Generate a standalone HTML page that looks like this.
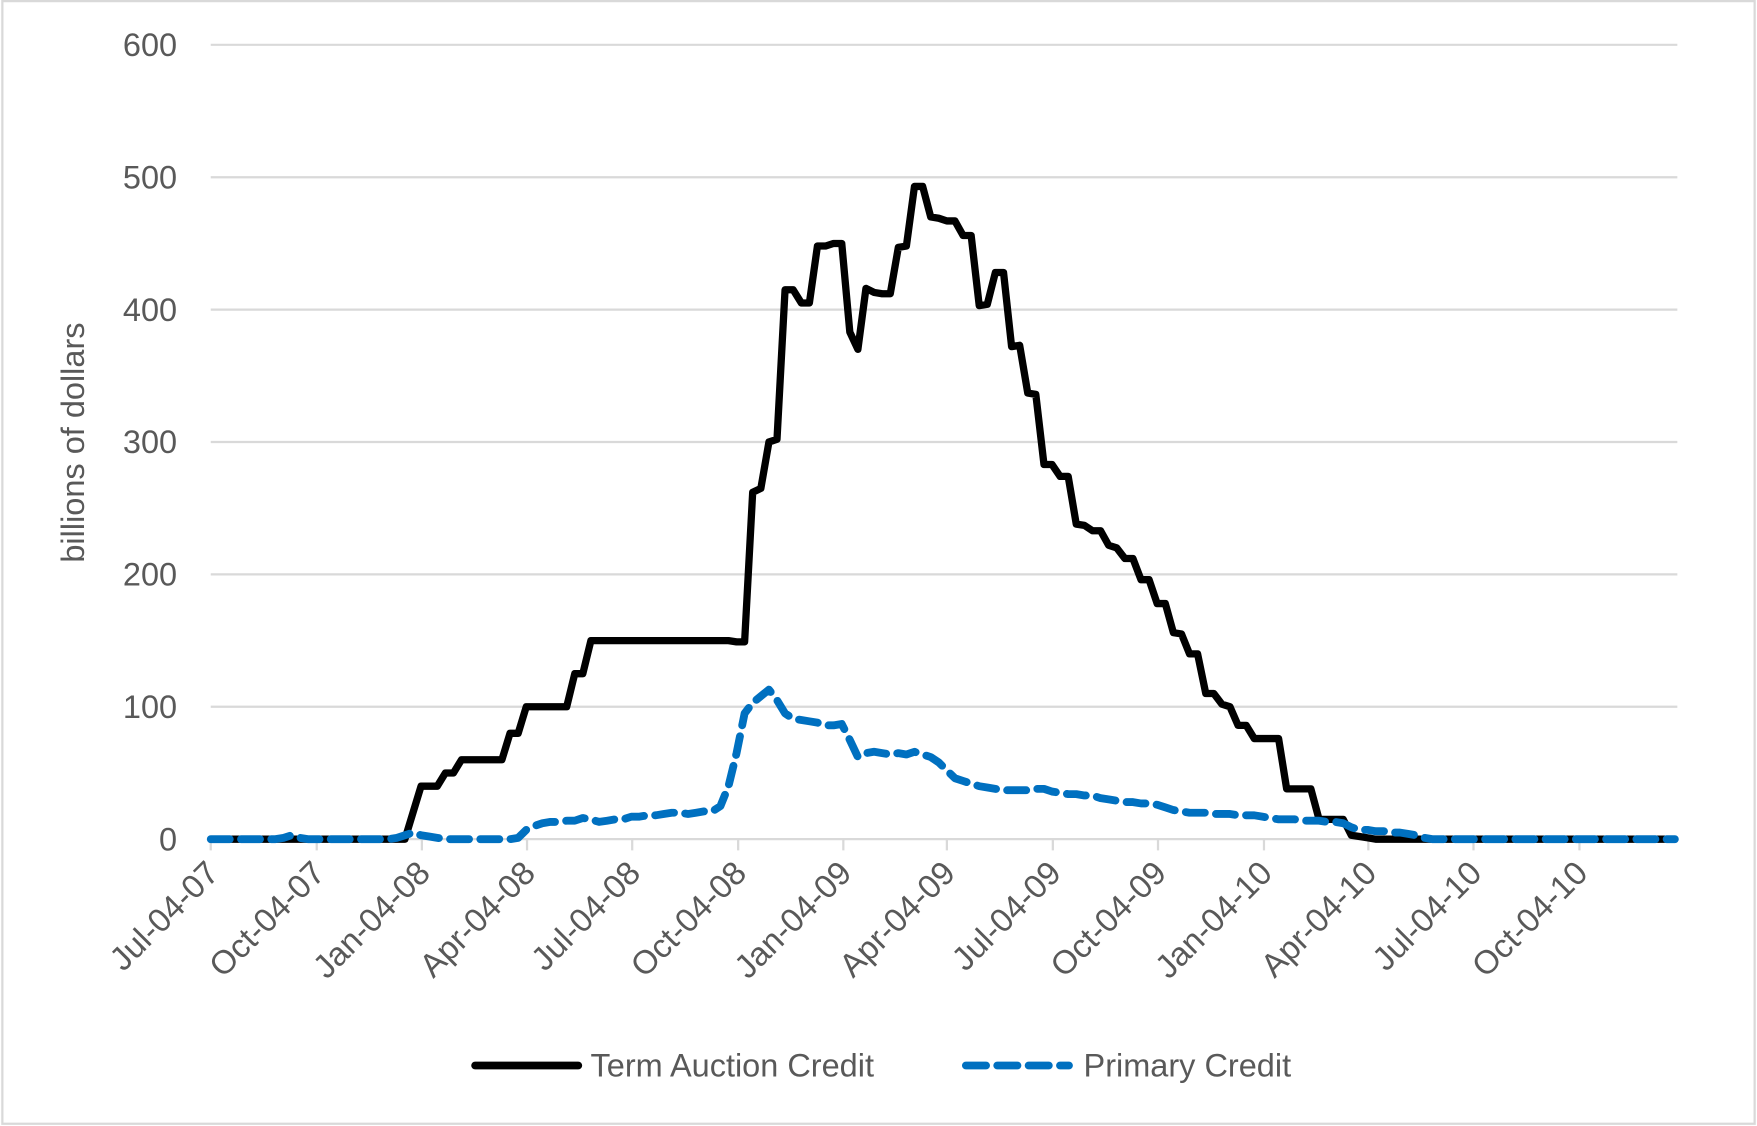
<!DOCTYPE html>
<html><head><meta charset="utf-8"><style>
html,body{margin:0;padding:0;background:#fff;}
svg{display:block;font-family:"Liberation Sans",sans-serif;}
</style></head><body>
<svg id="chart" width="1757" height="1126" viewBox="0 0 1568 1005" xmlns="http://www.w3.org/2000/svg">
<rect x="2" y="1" width="1564" height="1002" fill="#fff" stroke="#d9d9d9" stroke-width="2"/>
<g id="grid"></g>
<g id="xaxis"></g>
<g id="yaxis"></g>
<text x="75" y="395" font-size="29" fill="#595959" text-anchor="middle" transform="rotate(-90 75 395)">billions of dollars</text>
<g id="series"></g>
<g>
<line x1="424" y1="951" x2="516" y2="951" stroke="#000" stroke-width="7" stroke-linecap="round"/>
<text x="527" y="961" font-size="29" fill="#595959">Term Auction Credit</text>
<line x1="862" y1="951" x2="954" y2="951" stroke="#0070C0" stroke-width="7" stroke-dasharray="18 10" stroke-linecap="round"/>
<text x="967" y="961" font-size="29" fill="#595959">Primary Credit</text>
</g>
</svg>
<script>
const yTicks = [0,100,200,300,400,500,600];
const xTickLabels = ["Jul-04-07","Oct-04-07","Jan-04-08","Apr-04-08","Jul-04-08","Oct-04-08","Jan-04-09","Apr-04-09","Jul-04-09","Oct-04-09","Jan-04-10","Apr-04-10","Jul-04-10","Oct-04-10"];
const xTickWeeks = [0,13.1,26.1,39.1,52.1,65.2,78.2,91,104.1,117.1,130.2,143.1,156.1,169.2];
const termAuction = [0,0,0,0,0,0,0,0,0,0,0,0,0,0,0,0,0,0,0,0,0,0,0,0,0,20,40,40,40,50,50,60,60,60,60,60,60,80,80,100,100,100,100,100,100,125,125,150,150,150,150,150,150,150,150,150,150,150,150,150,150,150,150,150,150,149,149,262,265,300,302,415,415,405,405,448,448,450,450,383,370,416,413,412,412,447,448,493,493,470,469,467,467,456,456,403,404,428,428,372,373,337,336,283,283,274,274,238,237,233,233,222,220,212,212,196,196,178,178,156,155,140,140,110,110,102,100,86,86,76,76,76,76,38,38,38,38,15,15,15,15,3,2,1,0,0,0,0,0,0,0,0,0,0,0,0,0,0,0,0,0,0,0,0,0,0,0,0,0,0,0,0,0,0,0,0,0,0,0,0,0,0,0,0,0,0];
const primaryCredit = [0,0,0,0,0,0,0,0,0,1,3,1,0,0,0,0,0,0,0,0,0,0,0,1,3,5,3,2,1,0,0,0,0,0,0,0,0,0,1,7,10,12,13,13,14,14,16,15,13,14,15,15,17,17,18,18,19,20,20,19,20,21,21,25,40,65,95,103,108,113,105,95,91,90,89,88,86,86,87,75,62,65,66,65,64,65,64,66,64,62,58,52,46,44,42,40,39,38,37,37,37,37,38,38,36,35,34,34,33,33,31,30,29,28,28,27,27,26,24,22,21,20,20,20,19,19,19,18,18,18,17,16,15,15,15,14,14,14,13,13,12,9,7,7,6,6,5,5,4,3,1,0,0,0,0,0,0,0,0,0,0,0,0,0,0,0,0,0,0,0,0,0,0,0,0,0,0,0,0,0,0,0];
const NS="http://www.w3.org/2000/svg";
const X0=188, X1=1497, NW=181.3, Y0=749, Y600=40;
function xs(w){return X0+(X1-X0)*w/NW;}
function ys(v){return Y0-(Y0-Y600)*v/600;}
function mk(tag,attrs,parent){const e=document.createElementNS(NS,tag);for(const k in attrs)e.setAttribute(k,attrs[k]);parent.appendChild(e);return e;}
const grid=document.getElementById('grid'), ya=document.getElementById('yaxis'), xa=document.getElementById('xaxis'), sr=document.getElementById('series');
yTicks.forEach(v=>{
  const l=mk('line',{x1:X0,x2:X1,y1:ys(v),y2:ys(v),stroke:'#d9d9d9','stroke-width':2},grid);
  
  
  const t=mk('text',{x:158,y:ys(v)+10,'font-size':29,fill:'#595959','text-anchor':'end'},ya);
  t.textContent=v;
  
  
});
xTickLabels.forEach((lab,i)=>{
  const x=xs(xTickWeeks[i]);
  const tk=mk('line',{x1:x,x2:x,y1:Y0,y2:Y0+10,stroke:'#d9d9d9','stroke-width':2},xa);
  
  
  const t=mk('text',{x:x+9,y:Y0+32,'font-size':29.5,fill:'#595959','text-anchor':'end',transform:`rotate(-45 ${x+9} ${Y0+32})`},xa);
  t.textContent=lab;
  
  
});
function path(arr){return arr.slice(0,Math.floor(NW)+1).map((v,i)=>(i?'L':'M')+xs(i).toFixed(1)+' '+ys(v).toFixed(1)).join(' ');}
const p1=mk('path',{d:path(termAuction),fill:'none',stroke:'#000','stroke-width':6.5,'stroke-linejoin':'round'},sr);


const p2=mk('path',{d:path(primaryCredit),fill:'none',stroke:'#0070C0','stroke-width':7,'stroke-dasharray':'17 10','stroke-linecap':'round','stroke-linejoin':'round'},sr);


</script>
</body></html>
